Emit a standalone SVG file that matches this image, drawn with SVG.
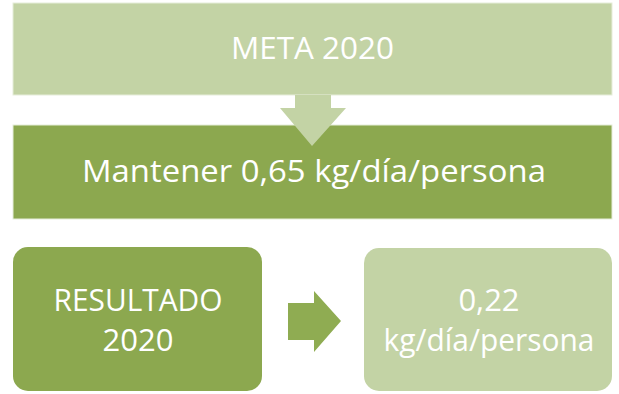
<svg xmlns="http://www.w3.org/2000/svg" width="619" height="394" viewBox="0 0 619 394">
  <style>
    .light { fill: #C3D3A5; }
    .dark { fill: #8CA84F; }
    .edge { stroke: #E6EDDA; stroke-width: 1; }
    .lbl { font-family: "Open Sans", "Liberation Sans", sans-serif; font-size: 31px; fill: #FFFFFF; text-anchor: middle; }
  </style>
  <rect width="619" height="394" fill="#FFFFFF"/>
  <g id="meta">
    <rect class="light edge" x="13" y="3" width="599" height="92"/>
    <text class="lbl" x="312.5" y="59" textLength="163" lengthAdjust="spacingAndGlyphs">META 2020</text>
  </g>
  <g id="mantener">
    <rect class="dark edge" x="13" y="125" width="599" height="94"/>
    <text class="lbl" x="314" y="182" textLength="464" lengthAdjust="spacingAndGlyphs">Mantener 0,65 kg/día/persona</text>
  </g>
  <g id="resultado">
    <rect class="dark" x="13" y="247" width="249" height="144" rx="15" ry="15"/>
    <text class="lbl" x="138" y="311" textLength="169" lengthAdjust="spacingAndGlyphs">RESULTADO</text>
    <text class="lbl" x="138" y="351">2020</text>
  </g>
  <g id="valor">
    <rect class="light" x="364" y="248" width="248" height="143" rx="15" ry="15"/>
    <text class="lbl" x="489" y="311">0,22</text>
    <text class="lbl" x="489" y="351" textLength="211" lengthAdjust="spacingAndGlyphs">kg/día/persona</text>
  </g>
  <g id="connectors">
    <polygon fill="#C3D3A5" points="295,95 331,95 331,108 346,108 312,146 280,108 295,108"/>
    <polygon fill="#8FAC52" points="288,303 314,303 314,291 341,321 314,352 314,340 288,340"/>
  </g>
</svg>
